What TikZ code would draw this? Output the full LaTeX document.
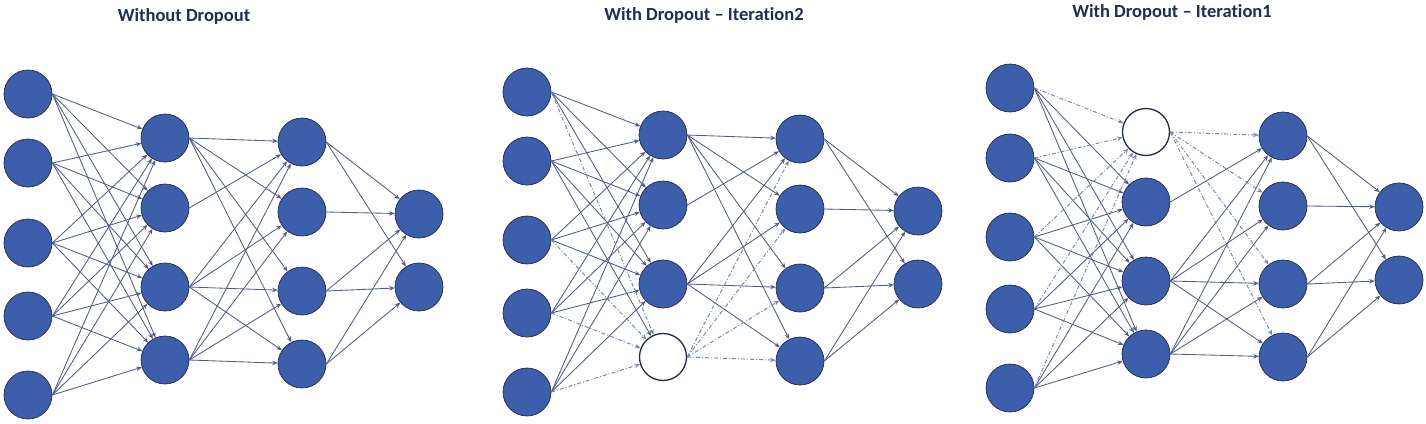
\documentclass[tikz,border=0pt]{standalone}
\usepackage{fontspec}
\setmainfont{Carlito}[Ligatures=NoCommon]
\usetikzlibrary{arrows.meta}
\definecolor{nfill}{RGB}{61,94,171}
\definecolor{nborder}{RGB}{33,42,80}
\definecolor{ecol}{RGB}{78,92,138}
\definecolor{dcol}{RGB}{115,133,180}
\definecolor{tcol}{RGB}{31,45,90}
\begin{document}
\begin{tikzpicture}[x=1pt,y=-1pt,
  neuron/.style={circle,minimum size=48pt,inner sep=0pt,fill=nfill,draw=nborder,line width=0.7pt},
  dropped/.style={circle,minimum size=47pt,inner sep=0pt,fill=white,draw=nborder,line width=1.3pt},
  conn/.style={draw=ecol,line width=0.85pt,-{Stealth[length=5.5pt,width=4.5pt]}},
  dconn/.style={draw=dcol,line width=0.95pt,dash pattern=on 4pt off 2pt on 1pt off 2pt,-{Stealth[length=5.5pt,width=4.5pt]}},
  title/.style={font=\bfseries\fontsize{18.5}{20}\selectfont,text=tcol,inner sep=0pt}]
\useasboundingbox (0,0) rectangle (1426,423);

% titles
\node[title] (ta) at (184,16) {Without Dropout};
\node[title] (tb) at (704,15) {With Dropout – Iteration2};
\node[title] (tc) at (1172,12) {With Dropout – Iteration1};

% ---------- Network A ----------
\foreach \y [count=\i] in {94,163,243,316,395} \node[neuron] (a1-\i) at (28,\y) {};
\foreach \y [count=\i] in {138,208,287,360} \node[neuron] (a2-\i) at (165,\y) {};
\foreach \y [count=\i] in {142,212,291,364} \node[neuron] (a3-\i) at (302,\y) {};
\foreach \y [count=\i] in {214,287} \node[neuron] (a4-\i) at (419,\y) {};
\foreach \i in {1,...,5} \foreach \j in {1,...,4} \draw[conn] (a1-\i.east) -- (a2-\j);
\foreach \i/\j in {1/1,1/2,1/3,1/4,2/1,3/1,3/2,3/3,3/4,4/1,4/2,4/3,4/4} \draw[conn] (a2-\i.east) -- (a3-\j);
\foreach \i/\j in {1/1,1/2,2/1,3/1,3/2,4/1,4/2} \draw[conn] (a3-\i.east) -- (a4-\j);

% ---------- Network B (Iteration2, node 2-4 dropped) ----------
\foreach \y [count=\i] in {92,161,240,313,392} \node[neuron] (b1-\i) at (527,\y) {};
\foreach \y [count=\i] in {135,205,284} \node[neuron] (b2-\i) at (663,\y) {};
\node[dropped] (b2-4) at (663,357) {};
\foreach \y [count=\i] in {139,209,288,361} \node[neuron] (b3-\i) at (800,\y) {};
\foreach \y [count=\i] in {211,284} \node[neuron] (b4-\i) at (918,\y) {};
\foreach \i in {1,...,5} \foreach \j in {1,2,3} \draw[conn] (b1-\i.east) -- (b2-\j);
\foreach \i in {1,3,4,5} \draw[dconn] (b1-\i.east) -- (b2-4);
\draw[conn] (b1-2.east) -- (b2-4);
\foreach \i/\j in {1/1,1/2,1/3,1/4,2/1,3/1,3/2,3/3,3/4} \draw[conn] (b2-\i.east) -- (b3-\j);
\foreach \j in {1,...,4} \draw[dconn] (b2-4.east) -- (b3-\j);
\foreach \i/\j in {1/1,1/2,2/1,3/1,3/2,4/1,4/2} \draw[conn] (b3-\i.east) -- (b4-\j);

% ---------- Network C (Iteration1, node 2-1 dropped) ----------
\foreach \y [count=\i] in {88,158,237,309,388} \node[neuron] (c1-\i) at (1010,\y) {};
\node[dropped] (c2-1) at (1146,132) {};
\foreach \y [count=\i from 2] in {202,281,354} \node[neuron] (c2-\i) at (1146,\y) {};
\foreach \y [count=\i] in {136,206,284,357} \node[neuron] (c3-\i) at (1283,\y) {};
\foreach \y [count=\i] in {207,280} \node[neuron] (c4-\i) at (1399,\y) {};
\foreach \i in {1,...,5} \foreach \j in {2,3,4} \draw[conn] (c1-\i.east) -- (c2-\j);
\foreach \i in {1,...,5} \draw[dconn] (c1-\i.east) -- (c2-1);
\foreach \j in {1,...,4} \draw[dconn] (c2-1.east) -- (c3-\j);
\foreach \i/\j in {2/1,3/1,3/2,3/3,3/4,4/1,4/2,4/3,4/4} \draw[conn] (c2-\i.east) -- (c3-\j);
\foreach \i/\j in {1/1,1/2,2/1,3/1,3/2,4/1,4/2} \draw[conn] (c3-\i.east) -- (c4-\j);
\end{tikzpicture}
\end{document}
